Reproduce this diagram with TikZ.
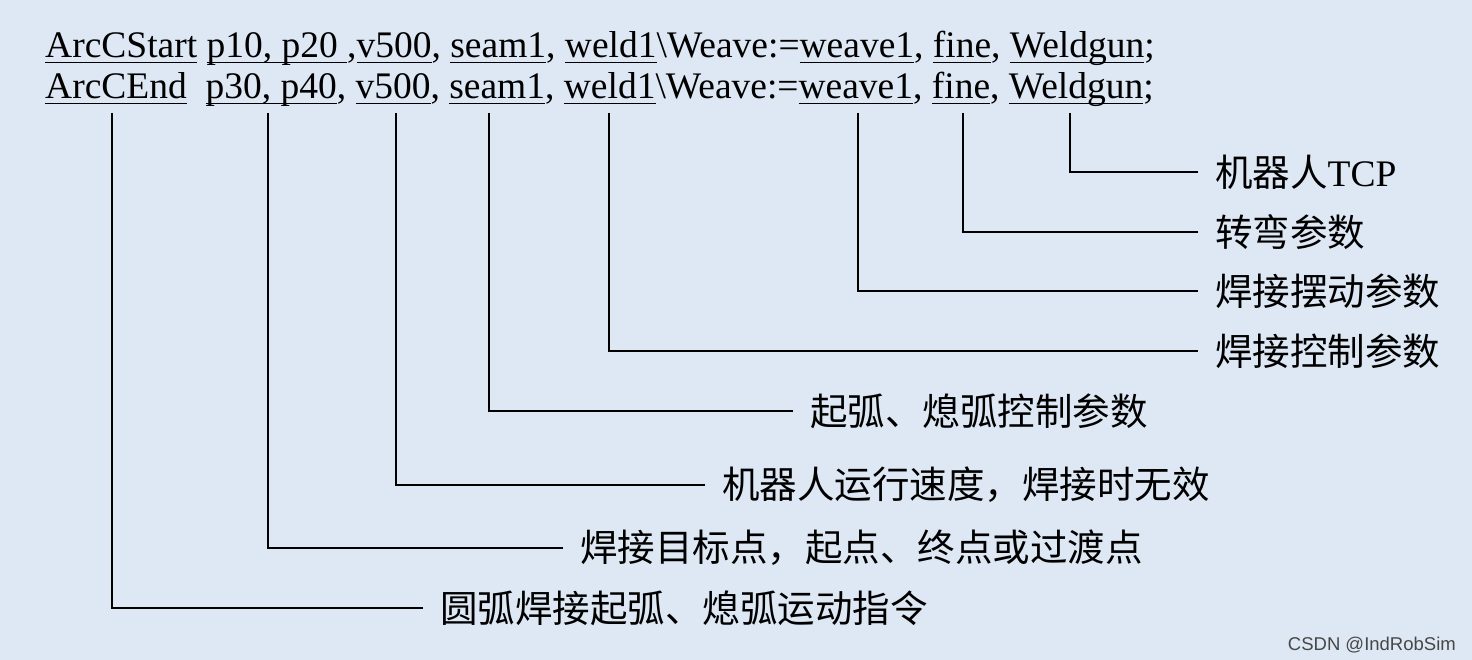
\documentclass[tikz,border=0pt]{standalone}
\usepackage{fontspec}
\setmainfont{Liberation Serif}
\newfontfamily\cjk{Noto Sans CJK SC}
\newfontfamily\wm{Liberation Sans}
\definecolor{bgc}{HTML}{DEE8F4}
\newcommand{\myul}[1]{\setbox0\hbox{#1}\rlap{\rule[-5.2pt]{\wd0}{1.6pt}}\box0\relax}
\begin{document}
\begin{tikzpicture}[x=1pt,y=-1pt,
  code/.style={anchor=base west,inner sep=0pt,font=\fontsize{37.5}{45}\selectfont},
  lab/.style={anchor=west,inner xsep=17pt,inner ysep=0pt,font=\fontsize{37.5}{45}\selectfont},
  conn/.style={draw=black,line width=1.6pt},
]
\fill[bgc] (0,0) rectangle (1472,660);
\useasboundingbox (0,0) rectangle (1472,660);
\node[code] (l1) at (45,58) {\myul{ArcCStart} \myul{p10, p20 },\myul{v500}, \myul{seam1}, \myul{weld1}\textbackslash Weave:=\myul{weave1}, \myul{fine}, \myul{Weldgun};};
\node[code] (l2) at (45,99) {\myul{ArcCEnd}\ \ \myul{p30, p40}, \myul{v500}, \myul{seam1}, \myul{weld1}\textbackslash Weave:=\myul{weave1}, \myul{fine}, \myul{Weldgun};};

\coordinate (c1) at (112,113);
\coordinate (c2) at (268,113);
\coordinate (c3) at (396,113);
\coordinate (c4) at (489,113);
\coordinate (c5) at (609,113);
\coordinate (c6) at (858,113);
\coordinate (c7) at (963,113);
\coordinate (c8) at (1070,113);

\node[lab] (t8) at (1198,172) {{\cjk 机器人}TCP};
\node[lab] (t7) at (1198,232) {\cjk 转弯参数};
\node[lab] (t6) at (1198,291) {\cjk 焊接摆动参数};
\node[lab] (t5) at (1198,351) {\cjk 焊接控制参数};
\node[lab] (t4) at (793,411) {\cjk 起弧、熄弧控制参数};
\node[lab] (t3) at (705,485) {\cjk 机器人运行速度，焊接时无效};
\node[lab] (t2) at (563,548) {\cjk 焊接目标点，起点、终点或过渡点};
\node[lab] (t1) at (423,608) {\cjk 圆弧焊接起弧、熄弧运动指令};

\foreach \i in {1,...,8} \draw[conn] (c\i) |- (t\i.west);

\node[anchor=base east,inner sep=0pt,text=black!72,font=\wm\fontsize{18.5}{20}\selectfont] (wm) at (1456,650) {CSDN @IndRobSim};
\end{tikzpicture}
\end{document}
